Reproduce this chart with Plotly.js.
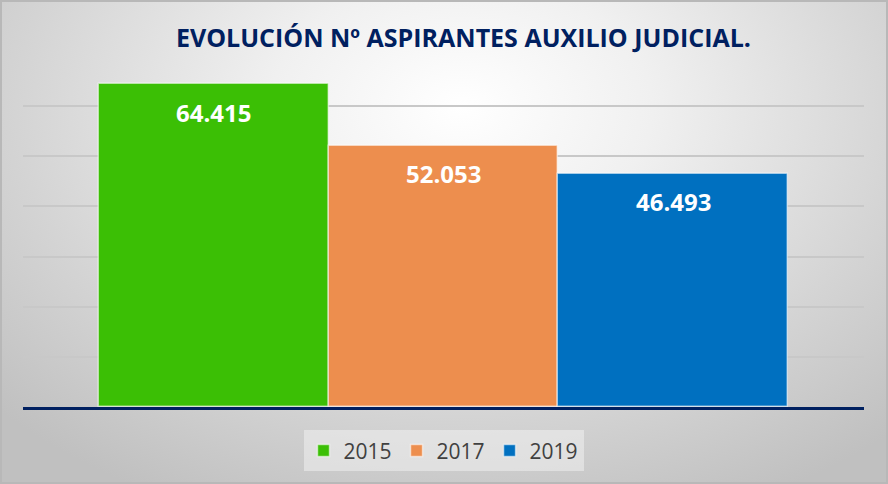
<!DOCTYPE html>
<html>
<head>
<meta charset="utf-8">
<script src="https://cdn.plot.ly/plotly-3.0.1.min.js"></script>
<style>
  html, body { margin:0; padding:0; }
  #wrap {
    width:888px; height:484px; box-sizing:border-box;
    border:2px solid #b8b8b8;
    background: radial-gradient(ellipse 72% 92% at 52% 22%, #ffffff 0%, #f0f0f0 30%, #d4d4d4 70%, #c0c0c0 100%);
  }
  #chart { width:884px; height:480px; }
</style>
</head>
<body>
<div id="wrap"><div id="chart"></div></div>
<script>
const categories = ['2015', '2017', '2019'];
const values = [64415, 52053, 46493];
const colors = ['#3bbf05', '#ed8e4e', '#0070c0'];
const titleText = 'EVOLUCIÓN Nº ASPIRANTES AUXILIO JUDICIAL.';

function fmt(v) {
  return String(v).replace(/\B(?=(\d{3})+(?!\d))/g, '.');
}

const traces = categories.map((c, i) => ({
  type: 'bar',
  name: c,
  x: [c],
  y: [values[i]],
  marker: { color: colors[i], line: { color: 'rgba(255,255,255,0.55)', width: 1.5 } },
  hoverinfo: 'none'
}));

const annotations = categories.map((c, i) => ({
  x: i, y: values[i], xref: 'x', yref: 'y',
  text: '<b>' + fmt(values[i]) + '</b>',
  showarrow: false, yanchor: 'middle', yshift: -28,
  font: { family: 'Open Sans', size: 24, color: '#ffffff' }
}));

const layout = {
  width: 884, height: 480,
  paper_bgcolor: 'rgba(0,0,0,0)',
  plot_bgcolor: 'rgba(0,0,0,0)',
  margin: { l: 21, r: 22, t: 54, b: 74, pad: 0 },
  title: {
    text: '<b>' + titleText + '</b>',
    font: { family: 'Open Sans', size: 25, color: '#002060' },
    x: 0.522, xanchor: 'center', y: 0.925, yanchor: 'middle'
  },
  barmode: 'overlay',
  bargap: 0,
  showlegend: true,
  legend: {
    orientation: 'h', x: 0.5, xanchor: 'center', y: -0.122, yanchor: 'middle',
    bgcolor: 'rgba(240,240,240,0.55)',
    font: { family: 'Open Sans', size: 21, color: '#404040' },
    itemclick: false, itemdoubleclick: false
  },
  xaxis: {
    type: 'category',
    range: [-0.83, 2.83],
    showticklabels: false, ticks: '',
    showgrid: false, zeroline: false,
    showline: true, linecolor: '#002060', linewidth: 3, layer: 'above traces',
    fixedrange: true
  },
  yaxis: {
    range: [0, 70000], dtick: 10000,
    showticklabels: false, ticks: '',
    showgrid: true, gridcolor: '#c8c8c8', gridwidth: 2,
    zeroline: false, showline: false, fixedrange: true
  },
  annotations: annotations
};

Plotly.newPlot('chart', traces, layout, { displayModeBar: false });
</script>
</body>
</html>
